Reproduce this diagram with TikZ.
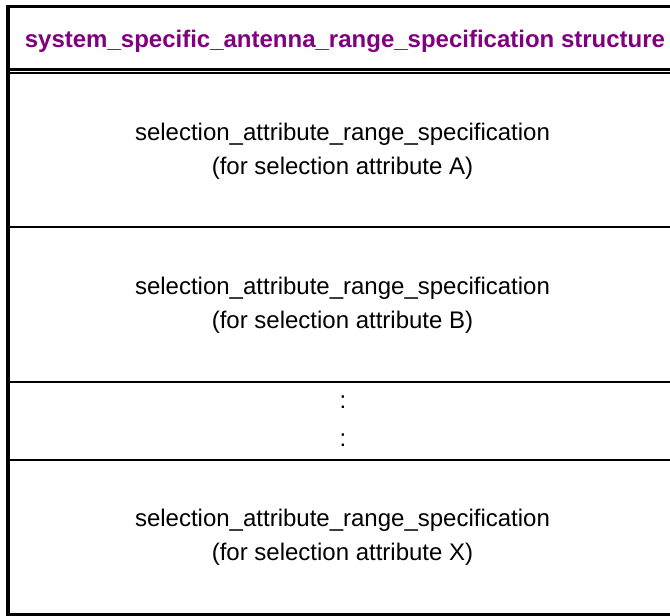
\documentclass[tikz,border=0pt]{standalone}
\usepackage{fontspec}
\setmainfont{Liberation Sans}
\usetikzlibrary{positioning}
\definecolor{title-tone}{HTML}{800080}

\begin{document}
\begin{tikzpicture}[
    x=1pt, y=-1pt,
    font=\fontsize{24}{34}\selectfont,
    frame/.style={line width=3.5pt, line cap=rect},
    rule/.style={line width=2pt},
    heading/.style={font=\fontsize{24}{34}\selectfont\bfseries, text=title-tone, inner sep=0pt},
    entry/.style={align=center, inner sep=0pt},
]
\useasboundingbox (0,0) rectangle (670,616);

% =====================================================================
% FRAME — left, top and bottom edges (right edge lies past the crop)
% =====================================================================

\coordinate (tl) at (8,6.5);
\coordinate (bl) at (8,614.5);
\coordinate (tr) at (672,6.5);
\coordinate (br) at (672,614.5);

\draw[frame] (tr) -- (tl) -- (bl) -- (br);

% =====================================================================
% HEADER
% =====================================================================

\node[heading] (title) at (345,41.5) {system\_specific\_antenna\_range\_specification structure};

% double rule under the header
\draw[line width=2.4pt] (8,69.3) -- (672,69.3);
\draw[line width=2.4pt] (8,72.9) -- (672,72.9);

% =====================================================================
% ROWS
% =====================================================================

\node[entry] (rowA) at (342.5,151) {selection\_attribute\_range\_specification\\(for selection attribute A)};
\draw[rule] (8,227) -- (672,227);

\node[entry] (rowB) at (342.5,305) {selection\_attribute\_range\_specification\\(for selection attribute B)};
\draw[rule] (8,382) -- (672,382);

\node[entry, font=\fontsize{24}{38}\selectfont] (dots) at (343,421) {:\\:};
\draw[rule] (8,460) -- (672,460);

\node[entry] (rowX) at (342.5,537) {selection\_attribute\_range\_specification\\(for selection attribute X)};

\end{tikzpicture}
\end{document}
